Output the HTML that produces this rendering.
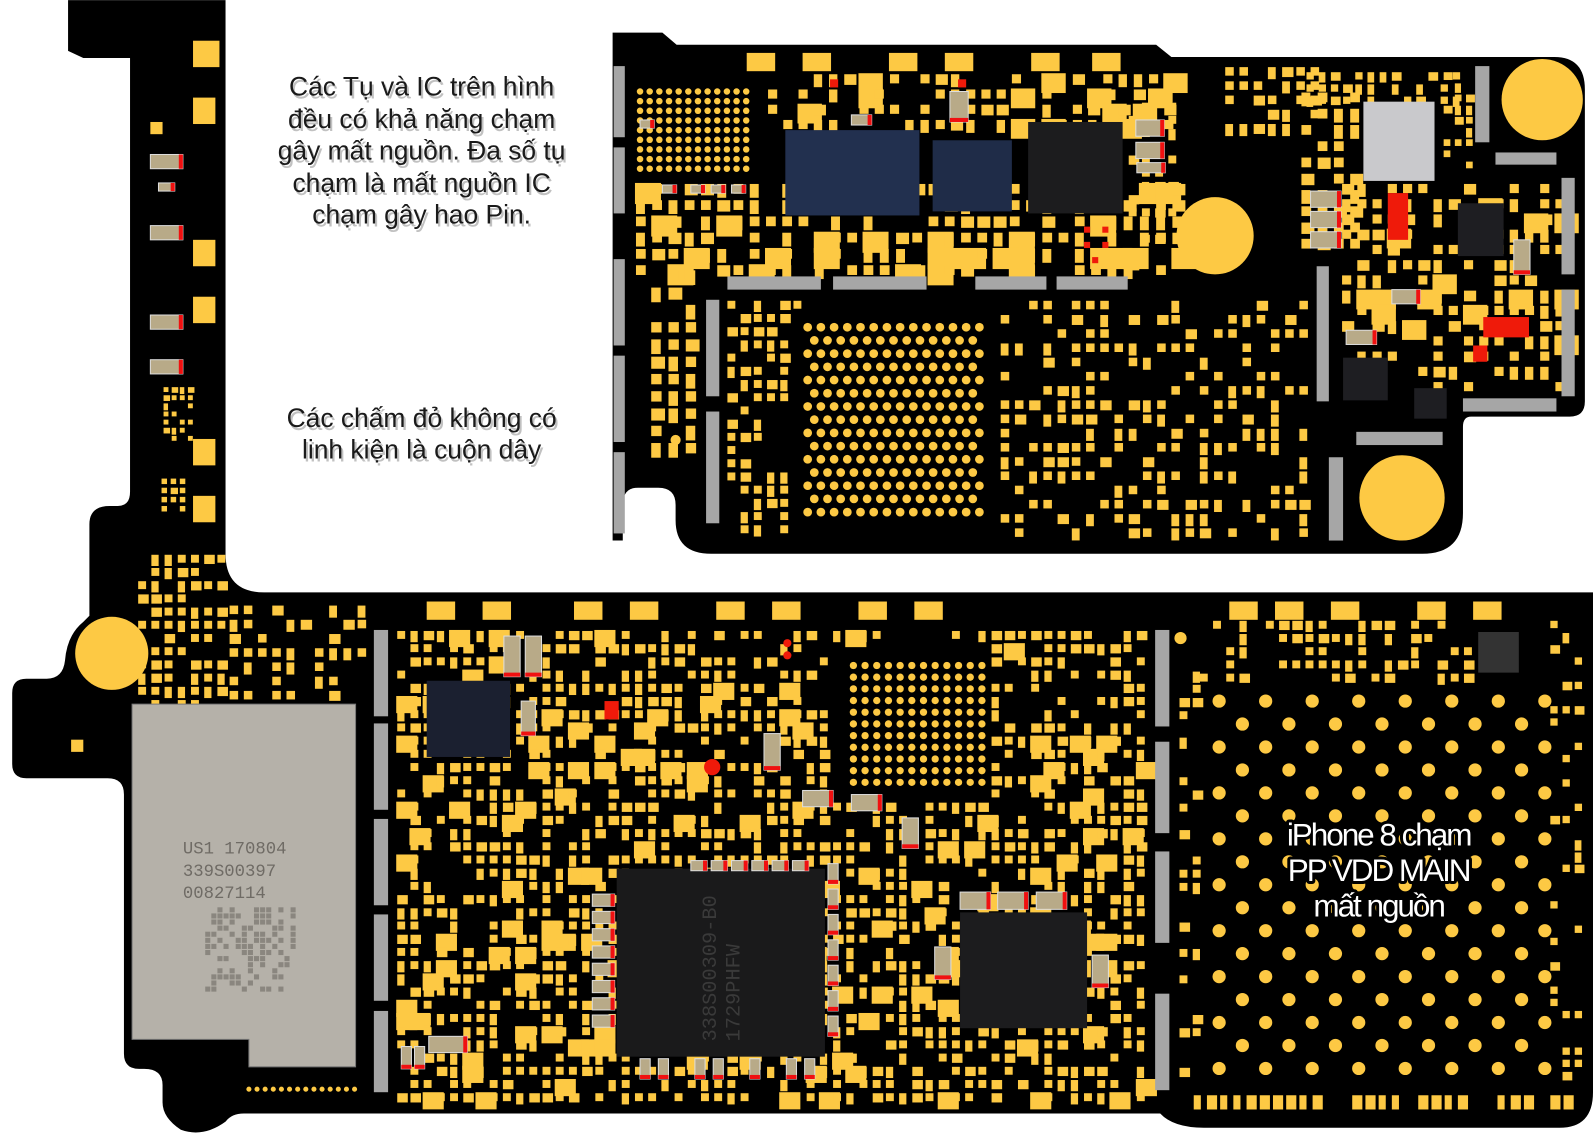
<!DOCTYPE html>
<html><head><meta charset="utf-8">
<style>
html,body{margin:0;padding:0;background:#fff;overflow:hidden}
svg{display:block}
</style></head>
<body>
<svg id="s" width="1593" height="1138" viewBox="0 0 1568 1120" xmlns="http://www.w3.org/2000/svg">
<rect width="1568" height="1120" fill="#fff"/>
<path fill="#000" d="M603,32 L652,32 L666,44 L1138,44 L1153,56 L1530,56 Q1560,56 1560,88 L1560,395 Q1560,410 1545,410 L1448,410 Q1440,410 1440,420 L1440,505 Q1440,545 1400,545 L700,545 Q665,545 665,512 L665,497 Q665,480 648,480 L628,480 Q613,480 613,497 L613,532 L603,532 Z"/>
<path fill="#000" d="M67,0 L222,0 L222,545 Q222,583 260,583 L1568,583 L1568,1075 Q1568,1110 1535,1110 L1185,1110 Q1155,1110 1142,1096 L240,1096 Q228,1096 222,1104 Q200,1120 178,1112 Q160,1100 160,1085 L160,1068 Q160,1052 142,1052 L137,1052 Q122,1052 122,1037 L122,782 Q122,766 106,766 L26,766 Q12,766 12,752 L12,682 Q12,668 26,668 L46,668 Q62,668 64,650 Q66,625 82,612 L88,606 L88,516 Q88,498 108,498 L116,498 Q128,498 128,484 L128,57 L82,57 L67,50 Z"/>
<g id="pads" fill="#fdc944"></g>
<g id="over"></g>
<g font-family="Liberation Sans, sans-serif" font-size="26" text-anchor="middle">
<g fill="#999" opacity="0.6" transform="translate(2,3)">
<text x="415" y="94">Các Tụ và IC trên hình</text>
<text x="415" y="126">đều có khả năng chạm</text>
<text x="415" y="157">gây mất nguồn. Đa số tụ</text>
<text x="415" y="189">chạm là mất nguồn IC</text>
<text x="415" y="220">chạm gây hao Pin.</text>
<text x="415" y="420">Các chấm đỏ không có</text>
<text x="415" y="451">linh kiện là cuộn dây</text>
</g>
<g fill="#1a1a1a">
<text x="415" y="94">Các Tụ và IC trên hình</text>
<text x="415" y="126">đều có khả năng chạm</text>
<text x="415" y="157">gây mất nguồn. Đa số tụ</text>
<text x="415" y="189">chạm là mất nguồn IC</text>
<text x="415" y="220">chạm gây hao Pin.</text>
<text x="415" y="420">Các chấm đỏ không có</text>
<text x="415" y="451">linh kiện là cuộn dây</text>
</g>
</g>
<g font-family="Liberation Sans, sans-serif" font-size="31" text-anchor="middle" letter-spacing="-2" fill="#fff" stroke="#000" stroke-width="6" paint-order="stroke" stroke-linejoin="round">
<text x="1357" y="832">iPhone 8 chạm</text>
<text x="1357" y="867">PP VDD MAIN</text>
<text x="1357" y="902">mất nguồn</text>
</g>
</svg>
<script>
(function(){
var NS="http://www.w3.org/2000/svg";
var pads=document.getElementById('pads'),over=document.getElementById('over');
var seed=12345;function r(){seed=(seed*1103515245+12345)&0x7fffffff;return seed/0x7fffffff;}
function el(g,t,a){var e=document.createElementNS(NS,t);for(var k in a)e.setAttribute(k,a[k]);g.appendChild(e);return e;}
function R(x,y,w,h,f,g){return el(g||pads,'rect',{x:x,y:y,width:w,height:h,fill:f||'#fdc944'});}
function C(x,y,rr,f,g){return el(g||pads,'circle',{cx:x,cy:y,r:rr,fill:f||'#fdc944'});}
var EX=[[830,640,975,780],[785,310,975,520],[620,82,742,172]];
function ex(x,y){for(var i=0;i<EX.length;i++){var e=EX[i];if(x>e[0]-12&&x<e[2]&&y>e[1]-12&&y<e[3])return true;}return false;}
function region(x0,y0,x1,y1,st,p,big){
 for(var y=y0;y<y1;y+=st)for(var x=x0;x<x1;x+=st){
  if(r()>p)continue;if(ex(x,y))continue;var t=r();
  if(big&&t<big){R(x,y,st*1.6,st*1.3);}
  else if(t<0.55){R(x+1,y+1,st*0.6,st*0.6);}
  else if(t<0.8){R(x+1,y+1,st*0.55,st*0.85);}
  else R(x+1,y+1,st*0.8,st*0.7);
 }}
[[190,40,26,26],[190,96,22,26],[148,120,12,12],[190,236,22,26],[190,292,22,26],[190,432,22,26],[190,488,22,26],[70,728,12,12]].forEach(function(a){R(a[0],a[1],a[2],a[3]);});
region(160,380,185,430,8,0.8);region(158,470,185,505,9,0.8);
region(135,545,215,690,13,0.7);region(225,595,355,690,14,0.6);
region(740,72,1160,125,15,0.6,0.15);
region(625,180,1160,262,16,0.75,0.2);
region(1205,65,1290,130,14,0.75);
region(1285,70,1450,100,12,0.6);
region(1280,90,1335,250,16,0.75);
region(1320,180,1535,390,15,0.6,0.1);
region(1420,70,1450,160,11,0.7);
region(640,265,690,440,17,0.8);
region(715,295,790,520,13,0.5);
region(970,295,1290,520,14,0.5);
region(1110,100,1160,260,13,0.5);
[[735,52],[790,52],[875,52],[930,52],[1015,52],[1075,52]].forEach(function(a){R(a[0],a[1],28,18);});
[[420,592],[475,592],[565,592],[620,592],[705,592],[760,592],[845,592],[900,592],[1210,592],[1255,592],[1310,592],[1395,592],[1450,592]].forEach(function(a){R(a[0],a[1],28,18);});
region(390,620,1130,1080,13,0.62,0.12);
region(1180,610,1450,665,13,0.5);
region(1525,610,1560,1060,12,0.35);
region(1160,660,1180,1060,13,0.3);
for(var x=1175;x<1550;x+=13){if(r()<0.8)R(x,1078,r()<0.5?10:7,14);}
for(var x=245;x<350;x+=8)C(x,1072,2.5);
for(var x=145;x<240;x+=9)if(r()<0.6)C(x,1018,2.5);
for(var y=90;y<172;y+=9.5)for(var x=630;x<735;x+=9.5)C(x,y,3.2);
var k=0;for(var y=322;y<512;y+=13){for(var x=795+(k%2)*6.5;x<968;x+=13)C(x,y,4.3);k++;}
for(var y=655;y<775;y+=11.5)for(var x=840;x<970;x+=11.5)C(x,y,3.6);
k=0;for(var y=690;y<1055;y+=22.6){for(var x=1200+(k%2)*22.9;x<1525;x+=45.8)C(x,y,6.5);k++;}
C(1196,232,38);C(1518,98,40);C(1380,490,42);C(110,643,36);C(665,433,5);C(1162,628,6);
function chip(x,y,w,h,f){R(x,y,w,h,f||'#1b1f2c',over);}
chip(773,128,132,84,'#22304f');chip(918,138,78,70,'#1f2c48');chip(1012,120,93,90,'#1c1c1e');
R(1342,100,70,78,'#c9c9cc',over);chip(1435,200,45,52,'#1e1e22');chip(1322,352,44,42,'#1e1e22');chip(1392,382,32,30,'#1e1e22');
chip(420,670,82,75,'#1b2030');chip(607,855,205,185,'#1a1a1b');chip(945,898,125,114,'#1c1c1e');chip(1455,622,40,40,'#333');
el(over,'path',{d:'M130,693 L350,693 L350,1050 L245,1050 L245,1023 L130,1023 Z',fill:'#b5b1a9',stroke:'#777','stroke-width':1});
var t=el(over,'g',{'font-family':'Liberation Mono, monospace','font-size':'17',fill:'#6f6b65'});
[['US1 170804',840],['339S00397',862],['00827114',884]].forEach(function(a){var e=el(t,'text',{x:180,y:a[1]});e.textContent=a[0];});
for(var y=893;y<975;y+=6)for(var x=202;x<290;x+=6)if(r()<0.45)R(x,y,5,5,'#8a867f',over);
var ct=el(over,'g',{'font-family':'Liberation Mono, monospace','font-size':'20',fill:'#3a3a3a'});
var e1=el(ct,'text',{x:0,y:0,transform:'translate(705,1025) rotate(-90)'});e1.textContent='338S00309-B0';
var e2=el(ct,'text',{x:0,y:0,transform:'translate(728,1025) rotate(-90)'});e2.textContent='1729PHFW';
function G(x,y,w,h){R(x,y,w,h,'#a6a6a6',over);}
[[604,65,11,70],[604,145,11,65],[604,255,11,85],[604,350,11,85],[604,445,11,80],[695,295,13,95],[695,405,13,110],
[716,272,92,13],[820,272,92,13],[960,272,70,13],[1040,272,70,13],[1296,262,12,133],[1308,450,14,82],[1537,175,13,95],[1537,285,13,105],[1452,65,14,75],[1472,150,60,12],[1440,392,92,13],[1335,425,85,13],
[368,620,14,85],[368,712,14,85],[368,806,14,85],[368,900,14,85],[368,995,14,80],[1137,620,14,95],[1137,730,14,90],[1137,838,14,90],[1137,978,14,95]].forEach(function(a){G(a[0],a[1],a[2],a[3]);});
function cap(x,y,w,h,v){R(x,y,w,h,'#b8aa88',over);R(x,y,w,h,'none',over).setAttribute('stroke','#ddd');
 if(v)R(x,y+h-4,w,4,'#f01010',over);else R(x+w-4,y,4,h,'#f01010',over);}
cap(148,152,32,14);cap(156,180,16,8);cap(148,222,32,14);cap(148,310,32,14);cap(148,354,32,14);
cap(630,118,14,8);cap(652,182,14,8);cap(680,182,14,8);cap(700,182,14,8);cap(720,182,14,8);
cap(935,90,18,30,1);cap(838,113,20,10);cap(1118,118,28,16);cap(1118,140,28,16);cap(1119,160,28,10);
cap(1290,188,30,16);cap(1290,208,30,16);cap(1290,228,30,16);cap(1490,236,16,34,1);cap(1370,285,28,14);cap(1325,325,30,14);
cap(496,626,16,40,1);cap(517,626,16,40,1);cap(513,690,14,34,1);cap(752,722,16,36,1);cap(790,778,30,16);cap(838,782,30,16);cap(888,805,16,30,1);
cap(945,878,30,17);cap(982,878,30,17);cap(1020,878,30,17);cap(920,932,16,32,1);cap(1075,940,16,32,1);cap(422,1020,38,16);cap(395,1030,10,22,1);cap(408,1030,10,22,1);
for(var y=880;y<1010;y+=17)cap(583,y,22,12);
for(var x=680;x<790;x+=20)cap(x,847,16,10);
for(var x=630;x<810;x+=18)if(r()<0.5)cap(x,1042,10,20,1);
for(var y=850;y<1020;y+=25)cap(815,y,10,20,1);
[[595,690,14,18],[817,78,8,8],[943,78,8,8],[1366,190,20,46],[1460,312,45,20],[1450,340,14,16],[1067,223,6,6],[1085,223,6,6],[1067,238,6,6],[1085,238,6,6],[1075,253,6,6]].forEach(function(a){R(a[0],a[1],a[2],a[3],'#ef1a0a',over);});
C(701,755,8,'#ef1a0a',over);C(775,633,4,'#ef1a0a',over);C(775,645,4,'#ef1a0a',over);
})();
</script>
</body></html>
